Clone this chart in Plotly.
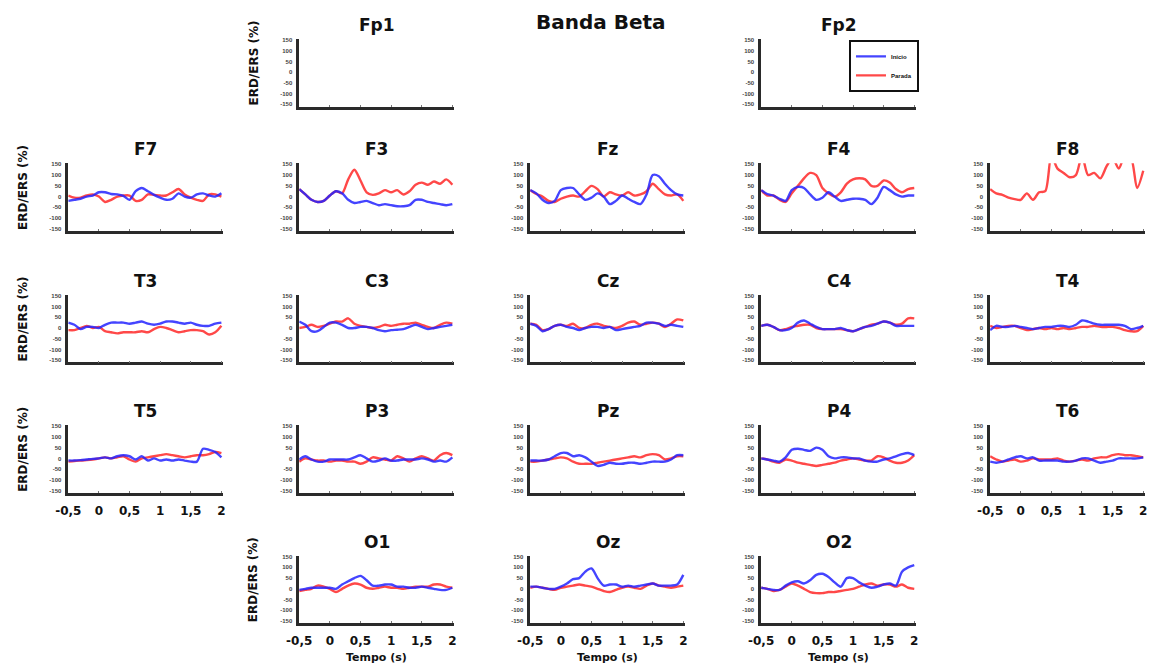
import plotly.graph_objects as go

# ---------------- data ----------------
T = [-0.5, -0.4, -0.3, -0.2, -0.1, 0.0, 0.1, 0.2, 0.3, 0.4, 0.5, 0.6, 0.7,
     0.8, 0.9, 1.0, 1.1, 1.2, 1.3, 1.4, 1.5, 1.6, 1.7, 1.8, 1.9, 2.0]

F7_inicio = [-20, -15, -10, 0, 5, 20, 20, 12, 10, 3, -15, 25, 40, 25, 8, -5, -15, -10, 15, 0, -5, 10, 15, 5, 0, 15]
F7_parada = [5, -5, -5, 5, 10, 0, -25, -15, 0, 5, 5, -20, -15, 10, 8, 5, 5, 20, 35, 10, -5, -15, -20, 10, 10, 0]
F3_inicio = [35, 10, -15, -25, -20, 5, 25, 15, -15, -30, -25, -20, -30, -40, -35, -40, -45, -45, -40, -15, -15, -25, -30, -35, -40, -35]
F3_parada = [35, 10, -15, -25, -20, 5, 25, 15, 80, 125, 75, 20, 8, 15, 30, 20, 30, 10, 25, 55, 65, 55, 70, 60, 80, 55]
Fz_inicio = [30, 15, -15, -30, -20, 30, 40, 40, 10, -15, -5, 15, 0, -35, -20, 5, -10, -25, -35, 10, 100, 95, 60, 30, 10, 5]
Fz_parada = [30, 12, 0, -20, -25, -10, 0, 5, 0, 25, 50, 35, 0, 20, 10, 5, 20, 5, 10, 25, 60, 35, 10, 5, 10, -20]
F4_inicio = [30, 12, 5, -10, -20, 30, 45, 40, 10, -15, -5, 20, 0, -20, -15, -10, -10, -15, -35, -5, 45, 30, 10, 0, 5, 5]
F4_parada = [30, 5, 5, -15, -25, 15, 50, 85, 110, 100, 40, 15, 0, 20, 60, 80, 85, 80, 50, 50, 75, 65, 35, 20, 35, 40]
F8_parada = [35, 15, 8, -5, -12, -15, 15, -15, 20, 25, 190, 130, 110, 90, 100, 190, 100, 110, 85, 140, 180, 130, 190, 180, 40, 120]

T3_inicio = [25, 15, -5, 5, 5, 0, 15, 25, 25, 25, 20, 25, 30, 20, 15, 20, 30, 30, 25, 20, 25, 15, 10, 10, 20, 25]
T3_parada = [-10, -10, 0, 10, 0, 5, -15, -20, -25, -20, -20, -20, -15, -20, -5, 5, 0, -10, -20, -15, -10, -10, -15, -30, -20, 10]
C3_inicio = [30, 15, -15, -15, 5, 25, 25, 15, 0, 0, 5, 5, 0, -10, -15, -10, -8, -5, 5, 15, 5, -5, 0, 5, 10, 15]
C3_parada = [0, 5, 15, 5, 10, 20, 30, 30, 45, 20, 10, 5, 0, 5, 15, 10, 15, 20, 20, 25, 15, 5, 0, 15, 25, 20]
Cz_inicio = [20, 10, -15, -5, 10, 15, 5, 0, -10, 0, 5, 5, 0, 5, -10, -5, 0, 5, 10, 25, 25, 20, 10, 15, 10, 5]
Cz_parada = [20, 15, -10, -5, 10, 15, 10, 20, 0, 0, 15, 20, 10, 5, 0, 10, 25, 30, 15, 20, 25, 20, 5, 20, 40, 35]
C4_inicio = [10, 15, 5, -10, -10, 0, 25, 35, 20, 5, -5, -5, -5, 0, -10, -15, -5, 5, 10, 20, 30, 25, 10, 10, 10, 10]
C4_parada = [10, 15, 5, -10, -5, 5, 10, 15, 15, 0, -5, -5, -5, -5, -10, -15, -5, 5, 15, 20, 30, 25, 15, 20, 45, 45]
T4_inicio = [-10, 10, 5, 5, 10, 5, 0, -5, 0, 5, 5, 10, 10, 5, 15, 35, 30, 20, 15, 15, 15, 15, 10, -5, 0, 10]
T4_parada = [10, 0, 5, 10, 10, 0, -10, -5, 0, -5, 0, -5, 0, -5, 0, 5, 5, 10, 5, 5, 5, 0, -10, -15, -15, 10]

T5_inicio = [-10, -10, -8, -5, -2, 0, 5, 0, 10, 15, 10, -5, 10, -10, 0, -10, -5, -10, -5, -10, -15, -15, 45, 40, 30, 5]
T5_parada = [-15, -12, -10, -8, -5, 0, 5, 0, 5, 10, -5, -15, 0, 5, 10, 15, 20, 15, 10, 5, 10, 15, 15, 20, 30, 25]
P3_inicio = [-5, 10, -5, -15, -15, -5, -5, -5, -5, 5, 15, 0, -15, -10, 0, -10, -10, -5, -5, -5, 0, -5, -15, -10, -15, 5]
P3_parada = [-15, 0, -5, -10, -10, -15, -10, -10, -15, -15, -25, -15, 5, 0, -5, -10, 10, 0, -15, 0, 10, 0, -10, 15, 25, 15]
Pz_inicio = [-10, -10, -10, -5, 10, 25, 25, 10, 15, 5, -15, -35, -30, -20, -25, -25, -20, -20, -25, -20, -15, -15, -15, -5, 15, 15]
Pz_parada = [-15, -15, -10, -5, 0, 5, 0, -15, -25, -25, -25, -20, -15, -10, -5, 0, 5, 10, 5, 15, 20, 15, -5, 0, 10, 10]
P4_inicio = [0, -5, -10, -15, 5, 40, 45, 40, 35, 50, 40, 10, 0, 5, 5, 0, 0, -10, -15, -15, -5, 0, 10, 20, 25, 15]
P4_parada = [0, -5, -15, -20, -5, -10, -20, -25, -30, -35, -30, -25, -20, -10, -5, 0, -5, -10, -10, 10, 5, -10, -20, -20, -10, 15]
T6_inicio = [-15, -20, -15, -5, 5, 10, 0, 5, -10, -10, -10, -10, -15, -15, -10, 0, 0, -10, -20, -15, -10, 0, 0, 0, 0, 5]
T6_parada = [10, -5, -15, -10, -5, -15, -10, 0, -5, -5, -5, 0, -10, -15, -10, -5, -10, 0, 5, 5, 15, 20, 15, 15, 10, 5]

O1_inicio = [-5, 0, 5, 5, 5, 5, 0, 20, 35, 50, 60, 40, 15, 15, 20, 20, 10, 10, 5, 5, 10, 5, 0, -5, -5, 5]
O1_parada = [-10, -5, 0, 15, 10, 0, -15, 0, 15, 25, 20, 5, 0, 5, 10, 5, 5, 0, 5, 10, 10, 10, 20, 20, 10, 5]
Oz_inicio = [10, 10, 5, 0, 0, 10, 25, 45, 50, 80, 95, 50, 15, 20, 20, 10, 15, 10, 15, 20, 25, 15, 15, 15, 20, 65]
Oz_parada = [5, 10, 5, 0, -5, 5, 10, 15, 20, 15, 10, 0, -10, -15, -5, 5, 10, 5, 0, 15, 25, 15, 10, 5, 10, 15]
O2_inicio = [5, 0, -5, -5, 15, 30, 35, 25, 40, 65, 70, 55, 30, 10, 50, 50, 30, 15, 5, 10, 20, 25, 15, 80, 100, 110]
O2_parada = [5, 0, -10, -5, 10, 25, 15, 0, -15, -20, -20, -15, -15, -10, -5, 0, 10, 20, 25, 15, 20, 20, 10, 20, 5, 0]

Y_TICKS = [-150, -100, -50, 0, 50, 100, 150]
X_TICKS = [-0.5, 0, 0.5, 1, 1.5, 2]
X_TICK_TEXT = ["-0,5", "0", "0,5", "1", "1,5", "2"]
LEGEND_NAMES = ["Início", "Parada"]
MAIN_TITLE = "Banda Beta"
Y_LABEL = "ERD/ERS (%)"
X_LABEL = "Tempo (s)"

# (name, row, col, inicio, parada, show x tick labels, y label, x label)
PANELS = [
    ("Fp1", 0, 1, None, None, False, True, False),
    ("Fp2", 0, 3, None, None, False, False, False),
    ("F7", 1, 0, F7_inicio, F7_parada, False, True, False),
    ("F3", 1, 1, F3_inicio, F3_parada, False, False, False),
    ("Fz", 1, 2, Fz_inicio, Fz_parada, False, False, False),
    ("F4", 1, 3, F4_inicio, F4_parada, False, False, False),
    ("F8", 1, 4, None, F8_parada, False, False, False),
    ("T3", 2, 0, T3_inicio, T3_parada, False, True, False),
    ("C3", 2, 1, C3_inicio, C3_parada, False, False, False),
    ("Cz", 2, 2, Cz_inicio, Cz_parada, False, False, False),
    ("C4", 2, 3, C4_inicio, C4_parada, False, False, False),
    ("T4", 2, 4, T4_inicio, T4_parada, False, False, False),
    ("T5", 3, 0, T5_inicio, T5_parada, True, True, False),
    ("P3", 3, 1, P3_inicio, P3_parada, False, False, False),
    ("Pz", 3, 2, Pz_inicio, Pz_parada, False, False, False),
    ("P4", 3, 3, P4_inicio, P4_parada, False, False, False),
    ("T6", 3, 4, T6_inicio, T6_parada, True, False, False),
    ("O1", 4, 1, O1_inicio, O1_parada, True, True, True),
    ("Oz", 4, 2, Oz_inicio, Oz_parada, True, False, True),
    ("O2", 4, 3, O2_inicio, O2_parada, True, False, True),
]

# ---------------- layout geometry (pixels) ----------------
W, H = 1153, 671
COL_X = [56, 290, 524, 758, 990]
PW = 157
ROW_Y = [(37, 105), (162, 230), (294, 362), (425, 493), (556, 624)]
BLUE = "rgba(35,35,255,0.85)"
RED = "rgba(255,40,40,0.85)"
FONT = "Liberation Sans, Arial, sans-serif"
HEAVY = "DejaVu Sans, Liberation Sans, sans-serif"

fig = go.Figure()
layout = dict(
    width=W, height=H, margin=dict(l=0, r=0, t=0, b=0),
    paper_bgcolor="white", plot_bgcolor="white",
    showlegend=True,
    legend=dict(x=847 / W, y=1 - 38 / H, xanchor="left", yanchor="top",
                bgcolor="white", bordercolor="#111", borderwidth=2,
                font=dict(family=FONT, size=6, color="#111", weight="bold"),
                tracegroupgap=0, itemwidth=30),
    annotations=[],
)

legend_done = False
for i, (name, r, c, ini, par, xlab, ylab, tlab) in enumerate(PANELS, start=1):
    x0 = COL_X[c]
    top, bot = ROW_Y[r]
    xd = [x0 / W, (x0 + PW) / W]
    yd = [1 - bot / H, 1 - top / H]
    xa = "x" if i == 1 else f"x{i}"
    ya = "y" if i == 1 else f"y{i}"
    layout["xaxis" if i == 1 else f"xaxis{i}"] = dict(
        domain=xd, anchor=ya, range=[-0.5, 2.03], showgrid=False, zeroline=False,
        showline=True, linecolor="#2a2a2a", linewidth=2.5,
        tickvals=X_TICKS, ticktext=X_TICK_TEXT, ticks="inside", ticklen=2,
        tickcolor="#777", showticklabels=xlab, ticklabelstandoff=5,
        ticklabeloverflow="allow",
        tickfont=dict(family=HEAVY, size=12, color="#111", weight="bold"),
    )
    layout["yaxis" if i == 1 else f"yaxis{i}"] = dict(
        domain=yd, anchor=xa, range=[-160, 155], showgrid=False, zeroline=False,
        showline=True, linecolor="#2a2a2a", linewidth=2.5,
        tickvals=Y_TICKS, ticktext=[str(v) for v in Y_TICKS], ticks="",
        ticklabelstandoff=3,
        tickfont=dict(family=FONT, size=6, color="#444", weight="bold"),
    )
    if ini is None and par is None:
        fig.add_trace(go.Scatter(x=[None], y=[None], xaxis=xa, yaxis=ya, mode="lines",
                                 showlegend=False, hoverinfo="skip"))
    if par is not None:
        fig.add_trace(go.Scatter(
            x=T, y=par, xaxis=xa, yaxis=ya, mode="lines", name=LEGEND_NAMES[1],
            line=dict(color=RED, width=2.4, shape="spline", smoothing=0.8),
            showlegend=False, legendrank=2, hoverinfo="skip"))
    if ini is not None:
        fig.add_trace(go.Scatter(
            x=T, y=ini, xaxis=xa, yaxis=ya, mode="lines", name=LEGEND_NAMES[0],
            line=dict(color=BLUE, width=2.4, shape="spline", smoothing=0.8),
            showlegend=False, legendrank=1, hoverinfo="skip"))
    if ini is not None and par is not None and not legend_done:
        fig.data[-1].showlegend = True
        fig.data[-2].showlegend = True
        legend_done = True

    # panel title
    layout["annotations"].append(dict(
        text=name, x=(x0 + PW / 2) / W, y=1 - (top - 14) / H, xref="paper", yref="paper",
        showarrow=False, xanchor="center", yanchor="middle",
        font=dict(family=HEAVY, size=17, color="#111", weight="bold")))
    if ylab:
        layout["annotations"].append(dict(
            text=Y_LABEL, x=(x0 - 46) / W, y=1 - ((top + bot) / 2 - 10) / H,
            xref="paper", yref="paper", showarrow=False, textangle=-90,
            xanchor="center", yanchor="middle",
            font=dict(family=HEAVY, size=12, color="#111", weight="bold")))
    if tlab:
        layout["annotations"].append(dict(
            text=X_LABEL, x=(x0 + PW / 2) / W, y=1 - 658 / H,
            xref="paper", yref="paper", showarrow=False,
            xanchor="center", yanchor="middle",
            font=dict(family=HEAVY, size=11, color="#111", weight="bold")))

layout["annotations"].append(dict(
    text=MAIN_TITLE, x=596 / W, y=1 - 20 / H, xref="paper", yref="paper",
    showarrow=False, xanchor="center", yanchor="middle",
    font=dict(family=HEAVY, size=20, color="#111", weight="bold")))

fig.update_layout(**layout)
fig.write_html("out.html", config={"displayModeBar": False},
               post_script="document.body.style.margin='0';")
